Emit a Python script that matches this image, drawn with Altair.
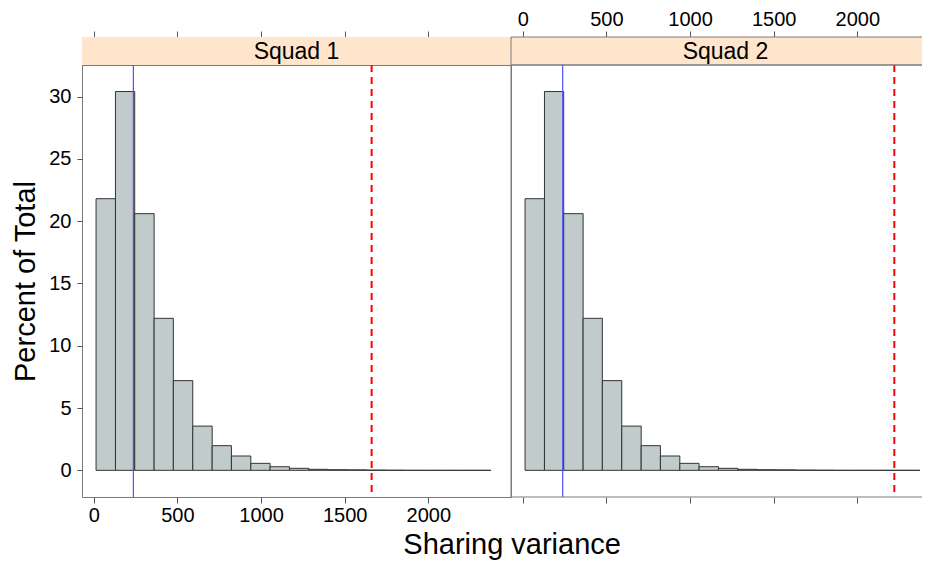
import altair as alt
import pandas as pd

# ---- data ----
squads = ["Squad 1", "Squad 2"]
bin_edges = [14, 130, 245, 361, 476, 592, 708, 823, 939, 1054, 1170, 1286,
             1401, 1517, 1632, 1748, 1864, 1979, 2095, 2210, 2326, 2374]
squad1_pct = [21.8, 30.4, 20.6, 12.2, 7.2, 3.55, 1.98, 1.15, 0.56, 0.29, 0.16,
              0.08, 0.05, 0.04, 0.02, 0.01, 0, 0, 0, 0, 0]
squad2_pct = [21.8, 30.4, 20.6, 12.2, 7.2, 3.55, 1.98, 1.15, 0.56, 0.29, 0.16,
              0.08, 0.05, 0.04, 0.02, 0.01, 0, 0, 0, 0, 0]
blue_line = [237, 239]     # solid blue reference line per squad
red_line = [1661, 2221]    # dashed red reference line per squad
x_ticks = [0, 500, 1000, 1500, 2000]
y_ticks = [0, 5, 10, 15, 20, 25, 30]

# ---- layout / style ----
FONT = "Liberation Sans"
W1, W2 = 429, 411
STRIP_H, PLOT_H = 28, 432
px_per_unit = W1 / (2494 + 70)
x_dom1 = [-70, 2494]
x_dom2 = [-70, -70 + W2 / px_per_unit]
y_dom = [-2.14, 32.53]
FRAME = "#7a7a7a"


def open_frame(width, height):
    """left, top and bottom border lines (right side is cut off in the original)"""
    left = alt.Chart().mark_rule(color=FRAME, strokeWidth=1).encode(
        x=alt.value(0), y=alt.value(0), y2=alt.value(height))
    top = alt.Chart().mark_rule(color=FRAME, strokeWidth=1).encode(
        x=alt.value(0), x2=alt.value(width), y=alt.value(0))
    bottom = alt.Chart().mark_rule(color=FRAME, strokeWidth=1).encode(
        x=alt.value(0), x2=alt.value(width), y=alt.value(height))
    return [left, top, bottom]


def strip(name, dom, width, second):
    base = alt.Chart(pd.DataFrame({"s": [name]}))
    rect = base.mark_rect(fill="#FFE5CC").encode(
        x=alt.X("a:Q", scale=alt.Scale(domain=dom, nice=False, zero=False),
                axis=alt.Axis(orient="top", values=x_ticks, title=None,
                              format="d",
                              labelOpacity=1 if second else 0,
                              tickSize=6, labelPadding=2)),
        x2="b:Q",
        y=alt.value(0), y2=alt.value(STRIP_H),
    ).transform_calculate(a=str(dom[0]), b=str(dom[1]))
    # strip label sits at the centre of the full (uncropped) panel width
    txt = base.mark_text(font=FONT, fontSize=23, color="black",
                         baseline="middle").encode(
        x=alt.value(W1 / 2), y=alt.value(STRIP_H / 2 + 1), text="s:N")
    layers = [rect, txt]
    if second:
        layers += open_frame(width, STRIP_H)
        view = alt.ViewBackground(stroke="transparent")
    else:
        view = alt.ViewBackground(stroke=FRAME, strokeWidth=1)
    return alt.layer(*layers).properties(width=width, height=STRIP_H, view=view)


def panel(pct, blue, red, dom, width, first):
    df = pd.DataFrame({"start": bin_edges[:-1], "end": bin_edges[1:], "pct": pct})
    xs = alt.Scale(domain=dom, nice=False, zero=False)
    ys = alt.Scale(domain=y_dom, nice=False, zero=False)
    bars = alt.Chart(df).mark_rect(fill="#C1CBCB", stroke="#333333",
                                   strokeWidth=1).encode(
        x=alt.X("start:Q", scale=xs,
                axis=alt.Axis(values=x_ticks, title=None, tickSize=6,
                              labelPadding=2, format="d",
                              labelOpacity=1 if first else 0)),
        x2="end:Q",
        y=alt.Y("pct:Q", scale=ys,
                axis=alt.Axis(values=y_ticks, title="Percent of Total",
                              titleFontSize=29, titleFont=FONT,
                              titleFontWeight="normal", titlePadding=8,
                              tickSize=5, labelPadding=6) if first else None),
        y2=alt.datum(0),
    )
    blue_rule = alt.Chart(pd.DataFrame({"v": [blue]})).mark_rule(
        color="#5050ff", strokeWidth=1.2).encode(x=alt.X("v:Q", scale=xs))
    red_rule = alt.Chart(pd.DataFrame({"v": [red]})).mark_rule(
        color="#ff0000", strokeWidth=2, strokeDash=[7, 5]).encode(
        x=alt.X("v:Q", scale=xs))
    layers = [bars, blue_rule, red_rule]
    if first:
        view = alt.ViewBackground(stroke=FRAME, strokeWidth=1)
    else:
        layers += open_frame(width, PLOT_H)
        view = alt.ViewBackground(stroke="transparent")
    return alt.layer(*layers).properties(width=width, height=PLOT_H, view=view)


s1 = strip(squads[0], x_dom1, W1, False)
s2 = strip(squads[1], x_dom2, W2, True)
p1 = panel(squad1_pct, blue_line[0], red_line[0], x_dom1, W1, True)
p2 = panel(squad2_pct, blue_line[1], red_line[1], x_dom2, W2, False)

chart = alt.concat(s1, s2, p1, p2, columns=2, spacing=0, align="each",
                   bounds="flush").properties(
    padding={"left": 3, "top": 0, "right": 0, "bottom": 0},
    title=alt.TitleParams("Sharing variance", orient="bottom", anchor="middle",
                          fontSize=29, font=FONT, fontWeight="normal",
                          color="black", offset=5, dx=45),
).resolve_scale(x="independent", y="independent").configure_axis(
    domain=False, labelFont=FONT, labelFontSize=20, labelColor="black",
    tickColor="#555555", grid=False,
).configure_view(stroke=FRAME)

chart.save("out.html", embed_options={"renderer": "svg", "actions": False})
